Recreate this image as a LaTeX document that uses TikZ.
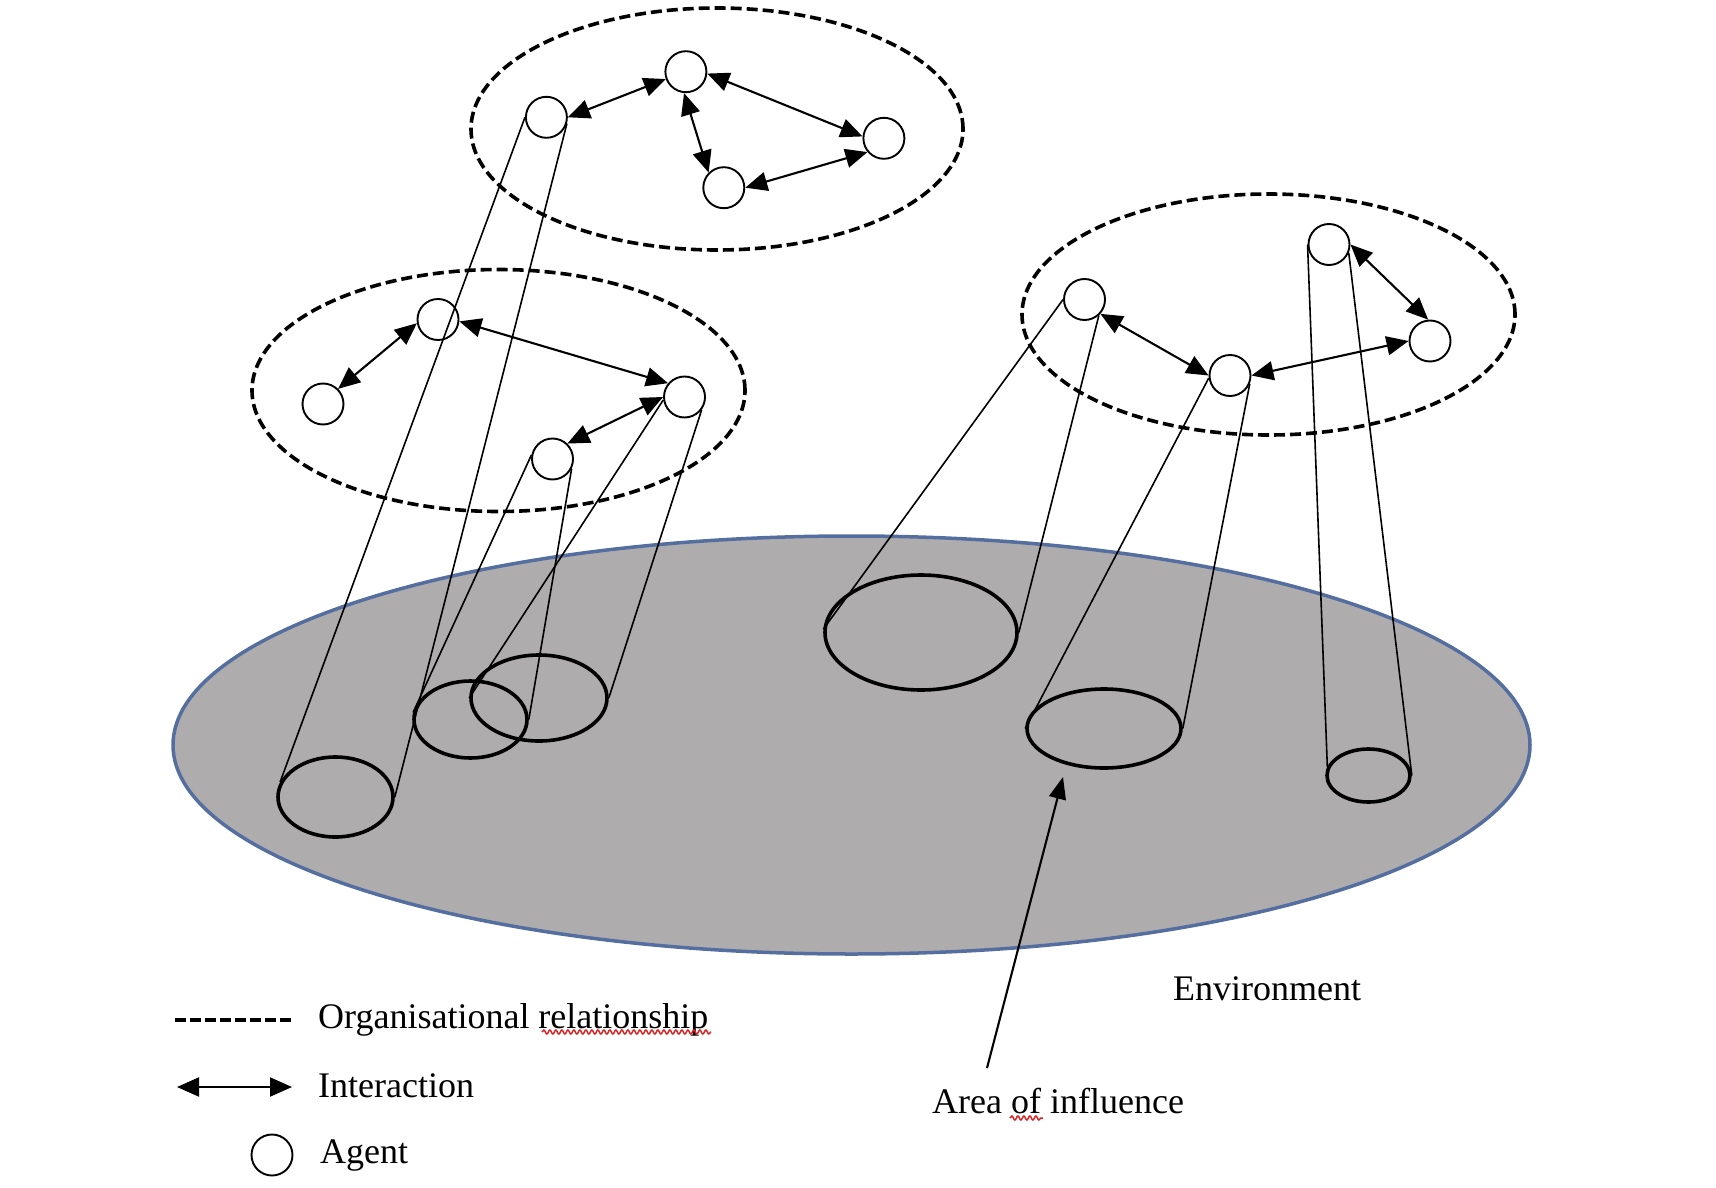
\documentclass[tikz,border=0pt]{standalone}
\usepackage{fontspec}
\setmainfont{Liberation Serif}
\usetikzlibrary{arrows.meta,shapes.geometric,decorations.pathmorphing}
\definecolor{envfill}{RGB}{174,172,172}
\definecolor{envline}{RGB}{84,110,160}
\definecolor{squig}{RGB}{215,35,35}
\begin{document}
\begin{tikzpicture}[x=1pt,y=-1pt,
  agent/.style={circle,draw,line width=1.9pt,minimum size=41pt,inner sep=0pt},
  area/.style={ellipse,draw,line width=3.6pt,inner sep=0pt},
  org/.style={ellipse,draw,line width=3.6pt,dash pattern=on 11pt off 5pt,inner sep=0pt},
  inter/.style={line width=2.1pt,{Triangle[length=22pt,width=19pt]}-{Triangle[length=22pt,width=19pt]}},
  link/.style={line width=1.6pt},
  lbl/.style={font=\fontsize{36}{40}\selectfont,inner sep=0pt,anchor=base west},
  wavy/.style={draw=squig,line width=1.5pt,decorate,decoration={snake,amplitude=2pt,segment length=6pt}},
]
\useasboundingbox (0,0) rectangle (1716,1188);

% environment
\node[ellipse,draw=envline,fill=envfill,line width=3.5pt,minimum width=1357pt,minimum height=418pt,inner sep=0pt] (env) at (851.5,745) {};

% areas of influence
\node[area,minimum width=115pt,minimum height=80pt] (E1) at (335.5,797) {};
\node[area,minimum width=113pt,minimum height=77pt] (E2) at (470.5,719.5) {};
\node[area,minimum width=136pt,minimum height=86pt] (E3) at (539,698) {};
\node[area,minimum width=192pt,minimum height=115pt] (E4) at (921,632.5) {};
\node[area,minimum width=154pt,minimum height=79pt] (E5) at (1104,728.5) {};
\node[area,minimum width=83pt,minimum height=53pt] (E6) at (1368.5,775.5) {};

% organisations
\node[org,minimum width=492pt,minimum height=242pt] (O1) at (717,129) {};
\node[org,minimum width=493pt,minimum height=242pt] (O2) at (498.5,390.5) {};
\node[org,minimum width=493pt,minimum height=241pt] (O3) at (1268.5,314.5) {};

% agents
\node[agent] (A1) at (546.4,117.3) {};
\node[agent] (A2) at (685.9,71.7) {};
\node[agent] (A3) at (883.9,138.3) {};
\node[agent] (A4) at (723.8,187.7) {};
\node[agent] (B1) at (438,319.5) {};
\node[agent] (B2) at (323,404) {};
\node[agent] (B3) at (684.5,397) {};
\node[agent] (B4) at (552.5,459) {};
\node[agent] (C1) at (1084.5,299.5) {};
\node[agent] (C2) at (1230,375.5) {};
\node[agent] (C3) at (1329,244.5) {};
\node[agent] (C4) at (1430,341) {};

% projection lines
\draw[link] (A1.180) -- (E1.165);
\draw[link] (A1.-17) -- (E1.0);
\draw[link] (B4.169) -- (E2.173);
\draw[link] (B4.-27) -- (E2.0);
\draw[link] (B3.188) -- (E3.180);
\draw[link] (B3.-37) -- (E3.0);
\draw[link] (C1.180) -- (E4.178);
\draw[link] (C1.-48) -- (E4.0);
\draw[link] (C2.187) -- (E5.180);
\draw[link] (C2.-23) -- (E5.0);
\draw[link] (C3.180) -- (E6.168);
\draw[link] (C3.-23) -- (E6.0);

% interactions
\draw[inter] (A1.0) -- (A2.200);
\draw[inter] (A2.-5) -- (A3.175);
\draw[inter] (A2.-95) -- (A4.135);
\draw[inter] (A4.0) -- (A3.220);
\draw[inter] (B2.45) -- (B1.190);
\draw[inter] (B1.-5) -- (B3.140);
\draw[inter] (B4.46) -- (B3.180);
\draw[inter] (C1.-42) -- (C2.180);
\draw[inter] (C2.0) -- (C4.180);
\draw[inter] (C3.0) -- (C4.95);

% labels
\node[lbl] (lorg) at (318,1028) {Organisational relationship};
\node[lbl] (lint) at (318,1097) {Interaction};
\node[lbl] (lag) at (320,1163) {Agent};
\node[lbl] (lenv) at (1173,1000) {Environment};
\node[lbl] (laoi) at (932,1113) {Area of influence};

% area of influence pointer
\coordinate (aoiT) at (987,1068);
\coordinate (aoiH) at (1063,777);
\draw[line width=2.1pt,-{Triangle[length=22pt,width=17pt]}] (aoiT) -- (aoiH);

% legend symbols
\coordinate (ld1) at (175,1020);
\coordinate (ld2) at (291,1020);
\draw[line width=3.6pt,dash pattern=on 10.5pt off 4.5pt] (ld1) -- (ld2);
\coordinate (li1) at (177,1087);
\coordinate (li2) at (292,1087);
\draw[inter] (li1) -- (li2);
\node[agent] (lagent) at (272,1155) {};

% spell-check underlines
\coordinate (sq1) at (542,1032);
\coordinate (sq2) at (711,1032);
\draw[wavy] (sq1) -- (sq2);
\coordinate (sq3) at (1010,1118);
\coordinate (sq4) at (1043,1118);
\draw[wavy] (sq3) -- (sq4);
\end{tikzpicture}
\end{document}
